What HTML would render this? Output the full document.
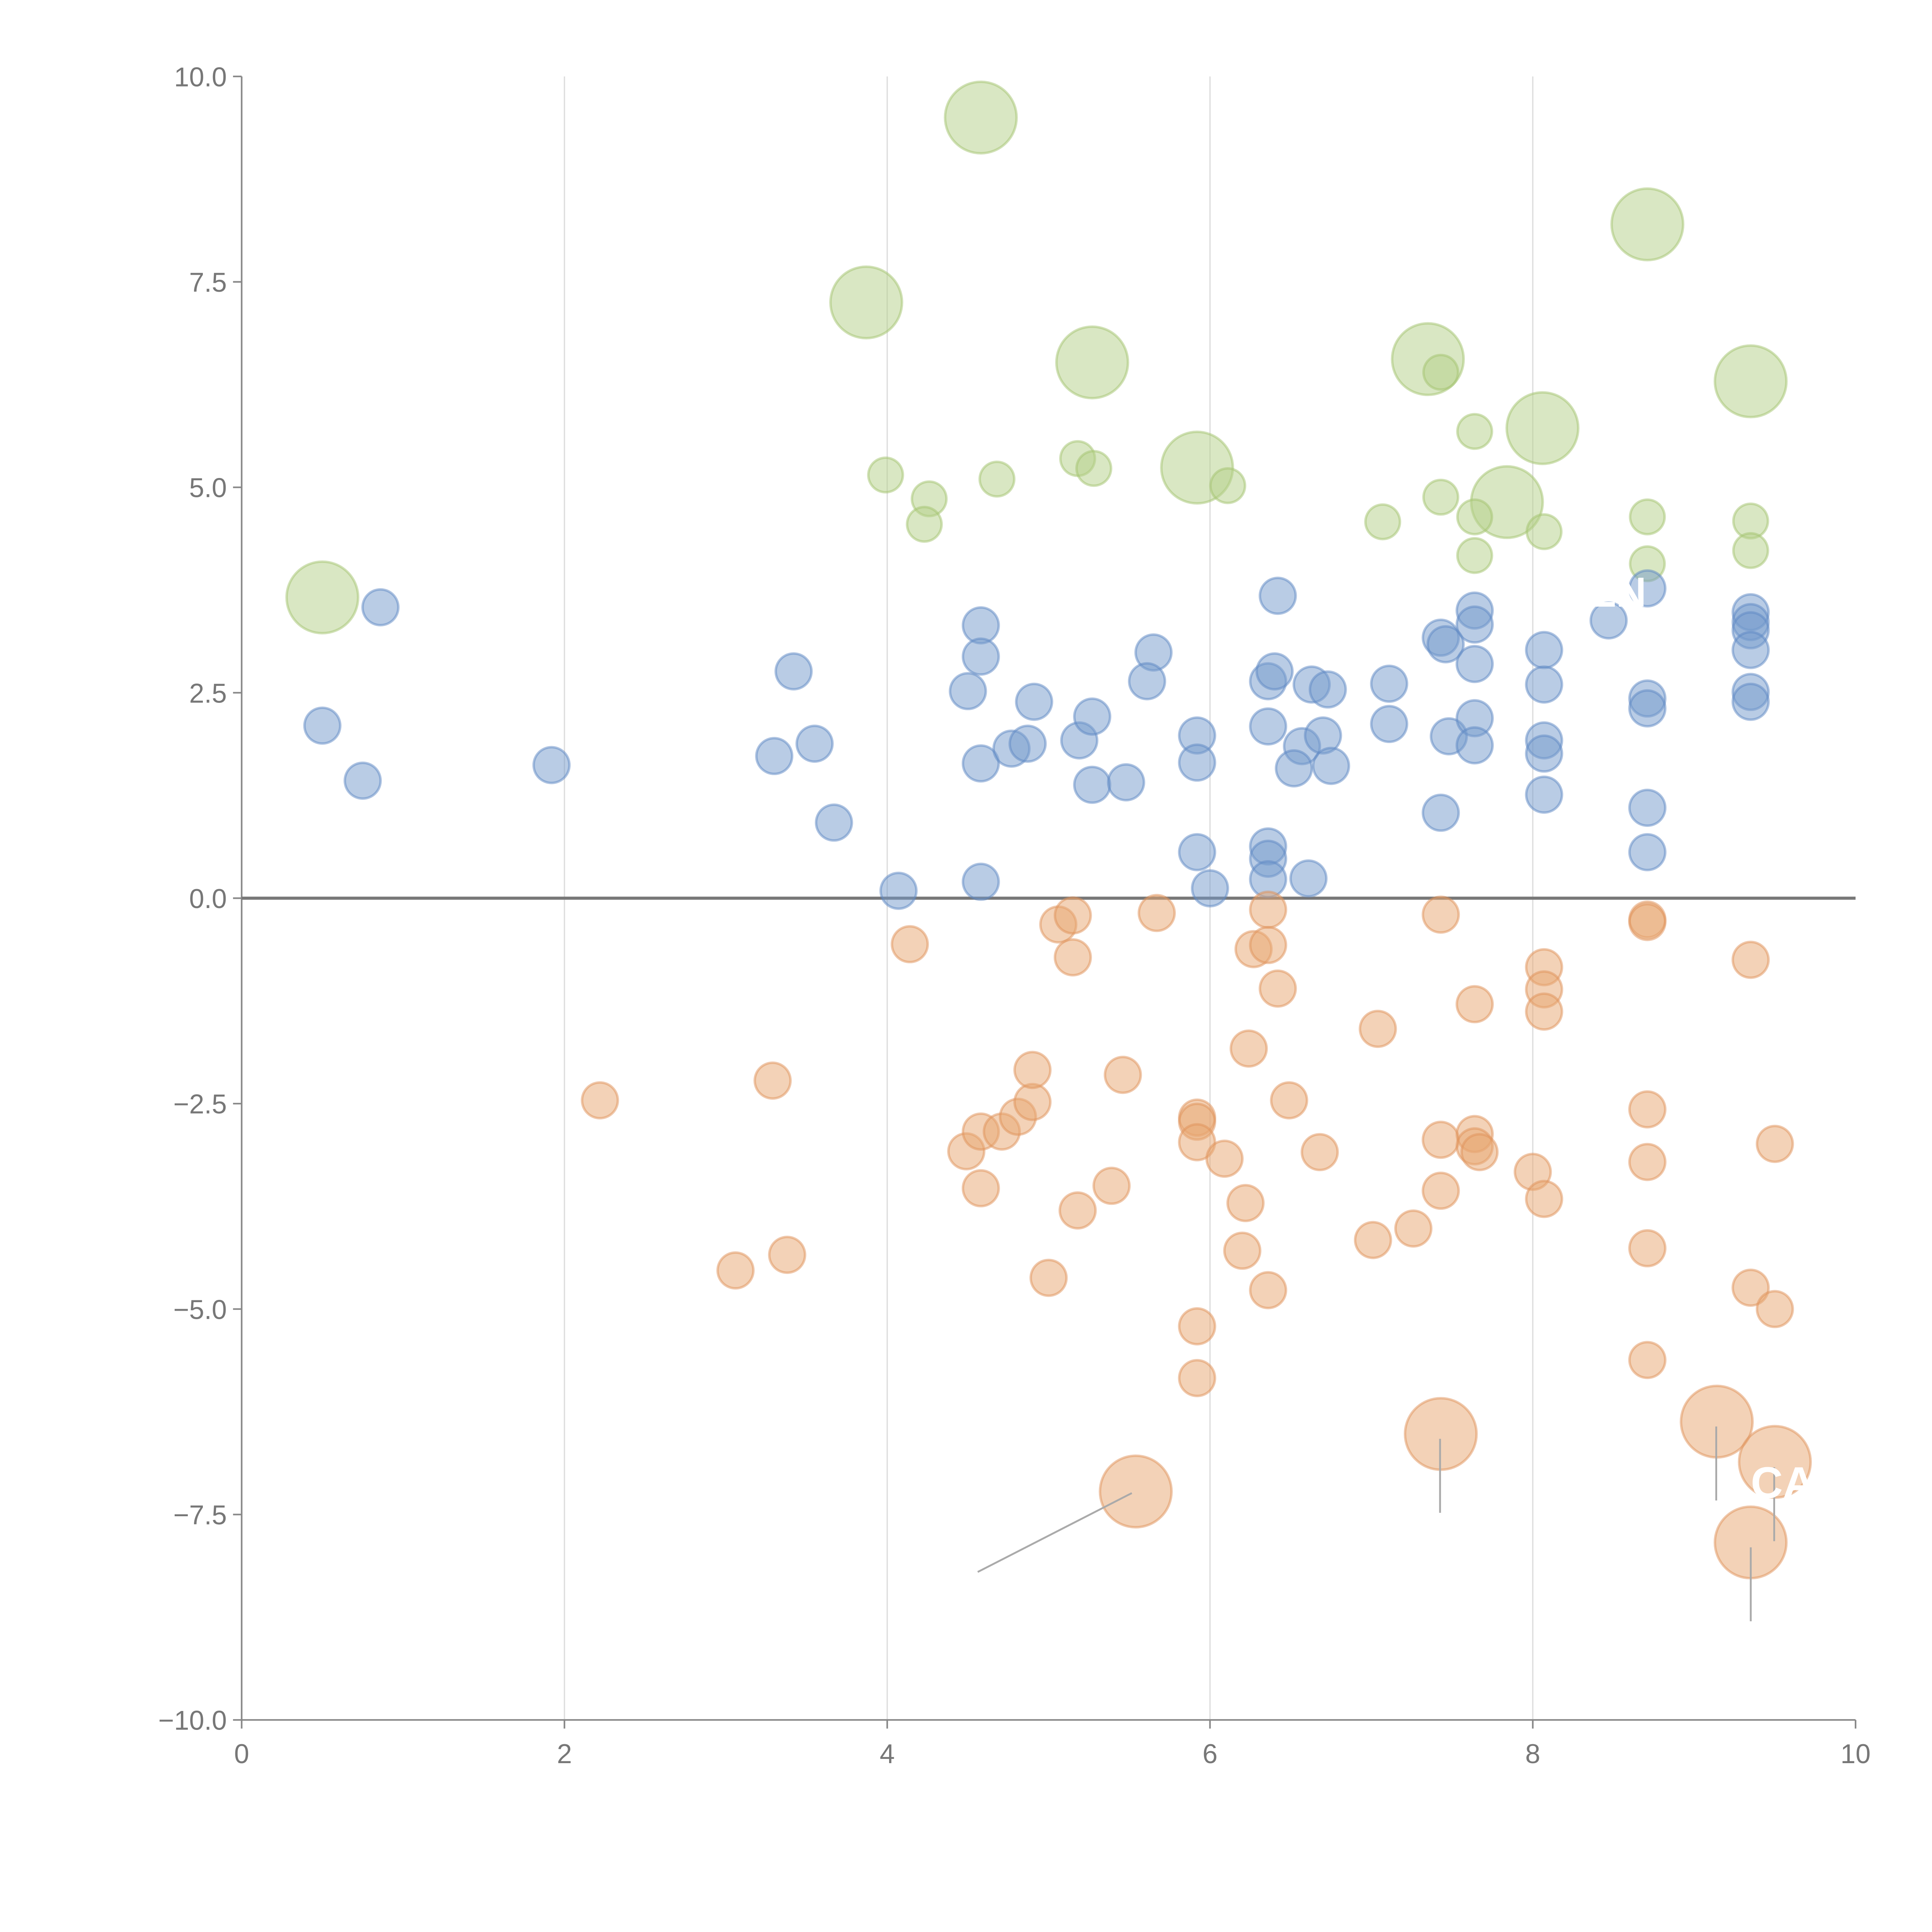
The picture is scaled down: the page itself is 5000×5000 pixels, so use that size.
<!DOCTYPE html>
<html><head><meta charset="utf-8"><style>
html,body{margin:0;padding:0;background:#fff;}
svg{display:block;}
text{font-family:"Liberation Sans",sans-serif;}
</style></head><body>
<svg id="chart" width="5000" height="5000" viewBox="0 0 1567 1567" xmlns="http://www.w3.org/2000/svg">
<g id="grid"></g>
<g id="axes"></g>
<g id="marks"></g>
<g id="ann"></g>
</svg>
<script>
const xTicks=[0,2,4,6,8,10];
const yTicks=[-10,-7.5,-5,-2.5,0,2.5,5,7.5,10];
const greenBigX=[4.58,3.87,5.27,8.71,7.35,9.35,8.06,5.92,7.84,0.50];
const greenBigY=[9.50,7.25,6.52,8.20,6.56,6.29,5.72,5.24,4.82,3.66];
const greenX=[3.99,4.26,4.23,4.68,5.18,5.28,6.11,7.07,7.43,7.64,7.43,7.64,7.64,8.07,8.71,8.71,9.35,9.35];
const greenY=[5.15,4.86,4.55,5.10,5.35,5.23,5.02,4.58,6.40,5.68,4.88,4.64,4.17,4.46,4.64,4.07,4.59,4.23];
const blueX=[0.86,0.50,0.75,1.92,3.30,3.42,3.55,3.67,4.07,4.58,4.58,4.50,4.58,4.77,4.87,4.91,4.58,5.19,5.27,5.27,5.48,5.65,5.61,5.92,5.92,5.92,6.00,6.42,6.36,6.40,6.36,6.36,6.36,6.36,6.63,6.73,6.57,6.70,6.52,6.75,6.61,7.11,7.11,7.43,7.46,7.48,7.43,7.64,7.64,7.64,7.64,7.64,8.07,8.07,8.07,8.07,8.07,8.47,8.71,8.71,8.71,8.71,8.71,9.35,9.35,9.35,9.35,9.35,9.35];
const blueY=[3.54,2.10,1.43,1.62,1.73,2.76,1.88,0.92,0.09,3.32,2.94,2.52,1.64,1.82,1.88,2.39,0.20,1.92,2.21,1.38,1.41,2.99,2.64,1.98,1.65,0.56,0.12,3.68,2.64,2.76,2.09,0.63,0.48,0.23,2.60,2.54,1.85,1.98,1.58,1.61,0.24,2.61,2.12,3.17,3.09,1.97,1.04,3.50,3.33,2.85,2.19,1.86,3.02,2.60,1.92,1.76,1.26,3.38,3.77,2.43,2.31,1.10,0.56,3.48,3.36,3.26,3.02,2.51,2.39];
const orangeX=[2.22,3.29,3.06,3.38,4.14,4.49,4.58,4.71,4.81,4.90,4.90,4.58,5.06,5.15,5.15,5.00,5.18,5.39,5.46,5.67,5.92,5.92,5.92,6.09,5.92,5.92,6.22,6.20,6.24,6.27,6.36,6.36,6.42,6.49,6.68,6.36,7.04,7.01,7.26,7.43,7.43,7.43,7.64,7.64,7.64,7.67,8.00,8.07,8.07,8.07,8.07,8.71,8.71,8.71,8.71,8.71,8.71,9.35,9.50,9.35,9.50];
const orangeY=[-2.46,-2.22,-4.53,-4.34,-0.56,-3.08,-2.84,-2.84,-2.66,-2.48,-2.09,-3.53,-0.32,-0.21,-0.72,-4.62,-3.80,-3.50,-2.15,-0.18,-2.67,-2.72,-2.97,-3.17,-5.21,-5.84,-3.71,-4.29,-1.83,-0.62,-0.14,-0.57,-1.10,-2.46,-3.09,-4.77,-1.59,-4.16,-4.02,-0.20,-2.94,-3.56,-1.29,-2.87,-3.02,-3.09,-3.33,-0.84,-1.11,-1.38,-3.66,-0.26,-0.29,-2.57,-3.21,-4.26,-5.62,-0.75,-2.99,-4.74,-5.00];
const orangeBigX=[5.54,7.43,9.14,9.50,9.35];
const orangeBigY=[-7.22,-6.52,-6.37,-6.86,-7.84];

const NS="http://www.w3.org/2000/svg";
const X0=196,X1=1505,Y0=1395,Y1=62;
function sx(v){return X0+(v-0)/(10-0)*(X1-X0);}
function sy(v){return Y0-(v+10)/20*(Y0-Y1);}
function mk(tag,attrs,parent){const e=document.createElementNS(NS,tag);for(const k in attrs)e.setAttribute(k,attrs[k]);parent.appendChild(e);return e;}
const grid=document.getElementById('grid'),axes=document.getElementById('axes'),marks=document.getElementById('marks'),ann=document.getElementById('ann');
xTicks.forEach(t=>{
  if(t>0&&t<10){const g=mk('line',{x1:sx(t),x2:sx(t),y1:Y1,y2:Y0,stroke:'#dcdcdc','stroke-width':1},grid);
  
  }
  const tk=mk('line',{x1:sx(t),x2:sx(t),y1:Y0,y2:Y0+7,stroke:'#888','stroke-width':1.3},axes);
  
  
  const lb=mk('text',{x:sx(t),y:Y0+35,'text-anchor':'middle','font-size':22,fill:'#777'},axes);
  lb.textContent=String(t);
  
  
});
yTicks.forEach(t=>{
  const tk=mk('line',{x1:X0-7,x2:X0,y1:sy(t),y2:sy(t),stroke:'#888','stroke-width':1.3},axes);
  
  
  const lb=mk('text',{x:X0-12,y:sy(t)+8,'text-anchor':'end','font-size':22,fill:'#777'},axes);
  lb.textContent=(t<0?'\u2212':'')+Math.abs(t).toFixed(1);
  
  
});
const ya=mk('line',{x1:X0,x2:X0,y1:Y1,y2:Y0,stroke:'#888','stroke-width':1.3},axes);


const xa=mk('line',{x1:X0,x2:X1,y1:Y0,y2:Y0,stroke:'#888','stroke-width':1.3},axes);


const zl=mk('line',{x1:X0,x2:X1,y1:sy(0),y2:sy(0),stroke:'#777','stroke-width':2.5},axes);



function draw(xs,ys,r,fill,stroke,name){
  xs.forEach((v,i)=>{
    const c=mk('circle',{cx:sx(v),cy:sy(ys[i]),r:r,fill:fill,'fill-opacity':0.5,stroke:stroke,'stroke-opacity':0.5,'stroke-width':2},marks);
    
    
  });
}
draw(greenBigX,greenBigY,29,'#b3cf87','#a3c46f','bubble-green-large');
draw(greenX,greenY,14,'#b3cf87','#a3c46f','bubble-green');
draw(blueX,blueY,14.5,'#7399cc','#5d88c4','bubble-blue');
draw(orangeX,orangeY,14.5,'#e8a56f','#e0925a','bubble-orange');
draw(orangeBigX,orangeBigY,29,'#e8a56f','#e0925a','bubble-orange-large');

[[793,1275,918,1211],[1168,1167,1168,1227],[1392,1157,1392,1217],[1439,1190,1439,1250],[1420,1255,1420,1315]].forEach(l=>{
  const e=mk('line',{x1:l[0],y1:l[1],x2:l[2],y2:l[3],stroke:'#aaa','stroke-width':1.5},ann);
  
  
});
const t1=mk('text',{x:1290,y:492,'font-size':34,fill:'#fff','font-weight':'bold'},ann);
t1.textContent='LN';


const t2=mk('text',{x:1420,y:1215,'font-size':36,fill:'#fff','font-weight':'bold'},ann);
t2.textContent='CA';


</script>
</body></html>
